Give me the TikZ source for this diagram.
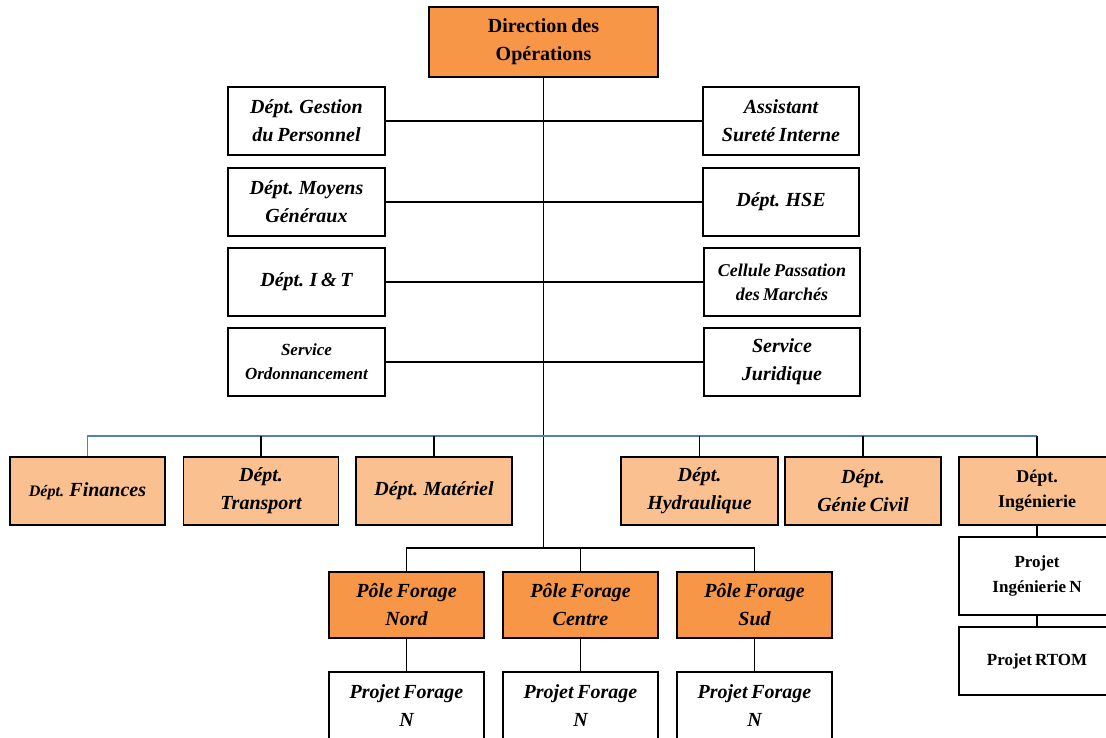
\documentclass[tikz,border=0pt]{standalone}
\usepackage{fontspec}
\setmainfont[WordSpace = 0.75]{Liberation Serif}
\definecolor{darkorange}{HTML}{F79646}
\definecolor{lightorange}{HTML}{FAC090}
\definecolor{busblue}{HTML}{4F81BD}
\tikzset{
	unit/.style = {draw, line width = 1.5pt, inner sep = 0pt, align = center, minimum width = 156pt, minimum height = 68pt, font = \fontsize{20}{28}\selectfont\bfseries\itshape},
	lead/.style = {unit, fill = darkorange},
	dept/.style = {unit, fill = lightorange},
	upright/.style = {font = \fontsize{17}{25}\selectfont\bfseries},
	small/.style = {font = \fontsize{17}{24}\selectfont\bfseries\itshape},
	link/.style = {line width = 1.8pt},
	bus/.style = {line width = 1.8pt, busblue}
}
\begin{document}
\begin{tikzpicture}[x = 1pt, y = -1pt]

	\clip (0, 0) rectangle (1106, 738);
	\fill [white] (0, 0) rectangle (1106, 738);

	% Direction
	
	\node [lead, minimum width = 229pt, minimum height = 70pt, font = \fontsize{20}{28}\selectfont\bfseries] (dir) at (543.5, 42) {Direction des\\Opérations};
	
	% Staff, left and right
	
	\node [unit, minimum width = 157pt] (gp) at (306.5, 121) {Dépt. Gestion\\du Personnel};
	\node [unit, minimum width = 157pt] (mg) at (306.5, 202) {Dépt. Moyens\\Généraux};
	\node [unit, minimum width = 157pt] (it) at (306.5, 282) {Dépt. I \& T};
	\node [unit, small, minimum width = 157pt] (ord) at (306.5, 362) {Service\\Ordonnancement};
	
	\node [unit] (sur) at (781, 121) {Assistant\\Sureté Interne};
	\node [unit] (hse) at (781, 202) {Dépt. HSE};
	\node [unit, small, font = \fontsize{18}{24}\selectfont\bfseries\itshape] (cpm) at (782, 282) {Cellule Passation\\des Marchés};
	\node [unit] (jur) at (782, 362) {Service\\Juridique};
	
	% Departments
	
	\node [dept, minimum width = 155pt] (fin) at (87.5, 491) {{\fontsize{16}{20}\selectfont Dépt.} Finances};
	\node [dept, minimum width = 155pt] (tra) at (261, 491) {Dépt.\\Transport};
	\node [dept] (mat) at (434, 491) {Dépt. Matériel};
	\node [dept, minimum width = 157pt] (hyd) at (699.5, 491) {Dépt.\\Hydraulique};
	\node [dept] (gc) at (863, 491) {Dépt.\\Génie Civil};
	\node [dept, font = \fontsize{18}{25}\selectfont\bfseries] (ing) at (1037, 491) {Dépt.\\Ingénierie};
	
	% Drilling poles + projects
	
	\node [lead, minimum width = 155pt, minimum height = 66pt] (nord) at (406.5, 605) {Pôle Forage\\Nord};
	\node [lead, minimum width = 155pt, minimum height = 66pt] (centre) at (580.5, 605) {Pôle Forage\\Centre};
	\node [lead, minimum width = 155pt, minimum height = 66pt] (sud) at (754.5, 605) {Pôle Forage\\Sud};
	
	\node [unit, minimum width = 155pt] (pn) at (406.5, 706) {Projet Forage\\N};
	\node [unit, minimum width = 155pt] (pc) at (580.5, 706) {Projet Forage\\N};
	\node [unit, minimum width = 155pt] (ps) at (754.5, 706) {Projet Forage\\N};
	
	\node [unit, upright, minimum height = 78pt] (pin) at (1037, 576) {Projet\\Ingénierie N};
	\node [unit, upright] (rtom) at (1037, 661) {Projet RTOM};
	
	% Connectors
	
	\coordinate (hub) at (543.5, 548);
	\coordinate (busl) at (87.5, 436);
	\coordinate (busr) at (1037, 436);
	
	\draw [link] (dir) -- (hub);
	\draw [link] (gp) -- (sur);
	\draw [link] (mg) -- (hse);
	\draw [link] (it) -- (cpm);
	\draw [link] (ord) -- (jur);
	
	\draw [bus] (fin.north) -- (busl) -- (busr);
	\foreach \d in {tra, mat, hyd, gc, ing}
		\draw [link] (\d.north) -- (\d.north |- busl);
	
	\draw [link] (nord.north) -- (nord.north |- hub) -- (sud.north |- hub) -- (sud.north);
	\draw [link] (centre.north) -- (centre.north |- hub);
	\draw [link] (nord) -- (pn);
	\draw [link] (centre) -- (pc);
	\draw [link] (sud) -- (ps);
	\draw [link] (ing) -- (pin);
	\draw [link] (pin) -- (rtom);

\end{tikzpicture}
\end{document}
